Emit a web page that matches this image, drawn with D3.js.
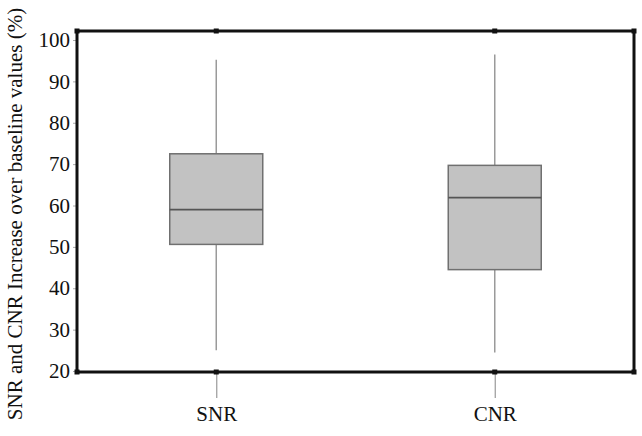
<!doctype html>
<html>
<head>
<style>
  body { margin: 0; background: white; }
  text { font-family: "Liberation Serif", "DejaVu Serif", serif; }
</style>
<script src="https://d3js.org/d3.v7.min.js"></script>
</head>
<body>
<script>
  // box plot data
  var categories = ["SNR", "CNR"];
  var whiskerLow  = [25.0, 24.5];
  var q1          = [50.6, 44.5];
  var median      = [59.0, 61.9];
  var q3          = [72.5, 69.7];
  var whiskerHigh = [95.2, 96.5];
  var yTicks = [20, 30, 40, 50, 60, 70, 80, 90, 100];

  var svg_width = 642, svg_height = 436;
  var frameL = 77, frameR = 634, frameT = 31, frameB = 372;

  var svg = d3.select("body").append("svg")
      .attr("width", svg_width)
      .attr("height", svg_height);

  var x = d3.scalePoint().domain(categories).range([frameL, frameR]).padding(0.5);
  var y = d3.scaleLinear().domain([20, 100]).range([371, 40]);
  var boxW = 93;

  // y axis ticks + labels
  var yAxis = svg.append("g")
      .attr("transform", "translate(" + frameL + ",0)")
      .call(d3.axisLeft(y).tickValues(yTicks).tickSize(4).tickPadding(3));
  yAxis.select(".domain").remove();
  yAxis.selectAll("line").attr("stroke", "#aaa");
  yAxis.selectAll("text")
      .attr("font-family", "Liberation Serif")
      .attr("font-size", "21px")
      .attr("fill", "#111");

  // x axis: ticks below frame + labels
  var xAxis = svg.append("g")
      .attr("transform", "translate(0," + frameB + ")")
      .call(d3.axisBottom(x).tickSize(26).tickPadding(8));
  xAxis.select(".domain").remove();
  xAxis.selectAll("line").attr("stroke", "#999").attr("stroke-width", 1.2);
  xAxis.selectAll("text")
      .attr("font-family", "Liberation Serif")
      .attr("font-size", "21px")
      .attr("fill", "#111");

  var data = categories.map(function(c, i) {
    return {c: c, lo: whiskerLow[i], q1: q1[i], med: median[i], q3: q3[i], hi: whiskerHigh[i]};
  });

  var g = svg.append("g");

  // whiskers
  g.selectAll(".whisker").data(data).enter().append("line")
      .attr("x1", function(d) { return x(d.c); })
      .attr("x2", function(d) { return x(d.c); })
      .attr("y1", function(d) { return y(d.lo); })
      .attr("y2", function(d) { return y(d.hi); })
      .attr("stroke", "#9a9a9a")
      .attr("stroke-width", 1.5);

  // boxes
  g.selectAll(".box").data(data).enter().append("rect")
      .attr("x", function(d) { return x(d.c) - boxW / 2; })
      .attr("y", function(d) { return y(d.q3); })
      .attr("width", boxW)
      .attr("height", function(d) { return y(d.q1) - y(d.q3); })
      .attr("fill", "#c2c2c2")
      .attr("stroke", "#707070")
      .attr("stroke-width", 1.5);

  // medians
  g.selectAll(".med").data(data).enter().append("line")
      .attr("x1", function(d) { return x(d.c) - boxW / 2; })
      .attr("x2", function(d) { return x(d.c) + boxW / 2; })
      .attr("y1", function(d) { return y(d.med); })
      .attr("y2", function(d) { return y(d.med); })
      .attr("stroke", "#555")
      .attr("stroke-width", 1.8);

  // frame
  svg.append("rect")
      .attr("x", frameL)
      .attr("y", frameT)
      .attr("width", frameR - frameL)
      .attr("height", frameB - frameT)
      .attr("fill", "none")
      .attr("stroke", "#111")
      .attr("stroke-width", 3);

  // little square marks on corners and at categories
  var marks = [[frameL, frameT], [frameR, frameT], [frameL, frameB], [frameR, frameB]];
  categories.forEach(function(c) {
    marks.push([x(c), frameT]);
    marks.push([x(c), frameB]);
  });
  svg.selectAll(".mark").data(marks).enter().append("rect")
      .attr("x", function(d) { return d[0] - 2.5; })
      .attr("y", function(d) { return d[1] - 2.5; })
      .attr("width", 5)
      .attr("height", 5)
      .attr("fill", "#111");

  // y title
  svg.append("text")
      .attr("transform", "translate(22," + 214 + ") rotate(-90)")
      .attr("text-anchor", "middle")
      .attr("font-size", "21px")
      .attr("fill", "#111")
      .text("SNR and CNR Increase over baseline values (%)");
</script>
</body>
</html>
